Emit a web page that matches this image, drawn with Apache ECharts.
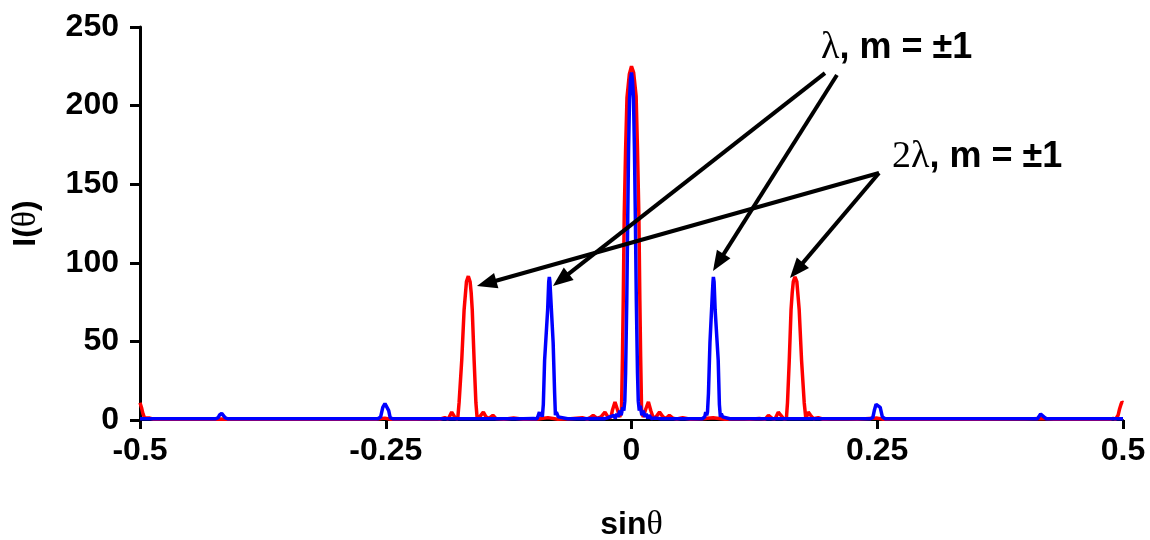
<!DOCTYPE html>
<html>
<head>
<meta charset="utf-8">
<script src="https://cdn.jsdelivr.net/npm/echarts@6/dist/echarts.min.js"></script>
<style>
  html, body { margin: 0; padding: 0; background: #fff; }
  #chart { width: 1150px; height: 540px; }
</style>
</head>
<body>
<div id="chart"></div>
<script>
// Axis ranges and ticks
const xRange = [-0.5, 0.5];
const xStep = 0.25;
const yRange = [0, 250];
const yStep = 50;

// Diffraction intensity I(theta) versus sin(theta), wavelength 2λ (red)
const redPts = [
  [-0.5, 11], [-0.4985, 8], [-0.497, 4], [-0.4955, 1.5], [-0.494, 0.5], [-0.49, 1.2], [-0.486, 0.5],
  [-0.45, 0.5], [-0.42, 0.6], [-0.40, 0.5], [-0.35, 0.5], [-0.30, 0.6], [-0.26, 0.5], [-0.251, 1.2],
  [-0.245, 0.5], [-0.22, 0.5], [-0.20, 0.8], [-0.195, 0.5], [-0.19, 1.5], [-0.1865, 0.5],
  [-0.1829, 5], [-0.181, 4], [-0.179, 1], [-0.1768, 0.6], [-0.1754, 11], [-0.1727, 38],
  [-0.1703, 70], [-0.1679, 88], [-0.166, 91.5], [-0.1642, 88], [-0.1631, 81], [-0.1620, 70],
  [-0.1601, 38], [-0.1583, 11], [-0.1570, 1], [-0.1545, 2], [-0.1507, 5], [-0.148, 2],
  [-0.145, 1], [-0.141, 3], [-0.138, 1], [-0.13, 0.5], [-0.12, 1.2], [-0.11, 0.5], [-0.095, 0.6],
  [-0.085, 1.5], [-0.075, 0.5], [-0.062, 0.8], [-0.05, 1.5], [-0.045, 0.6], [-0.042, 1.5],
  [-0.039, 3], [-0.035, 1], [-0.031, 2], [-0.027, 5], [-0.024, 2], [-0.021, 1.5],
  [-0.0195, 6], [-0.0168, 11.5], [-0.0145, 7], [-0.012, 2], [-0.0102, 5], [-0.0092, 40],
  [-0.0084, 76], [-0.0074, 130], [-0.0060, 172], [-0.0046, 205], [-0.0022, 220], [0, 225],
  [0.0022, 221], [0.0047, 206], [0.0061, 172], [0.0075, 130], [0.0085, 76], [0.0093, 40],
  [0.0103, 5], [0.012, 2], [0.0145, 7], [0.0172, 11.5], [0.0196, 6], [0.022, 1.5],
  [0.025, 2], [0.0285, 5], [0.032, 2], [0.035, 1], [0.0385, 3], [0.042, 1.2], [0.046, 0.6],
  [0.052, 1.4], [0.06, 0.5], [0.072, 0.8], [0.083, 1.5], [0.095, 0.5], [0.11, 0.8], [0.12, 0.5],
  [0.13, 1], [0.136, 0.5], [0.1393, 3], [0.143, 1], [0.146, 0.6], [0.1493, 5], [0.152, 3],
  [0.155, 0.6], [0.1576, 1], [0.1587, 11], [0.1605, 38], [0.1623, 70], [0.1635, 81],
  [0.1646, 88], [0.1663, 91], [0.1682, 88], [0.1706, 70], [0.1730, 38], [0.1757, 11],
  [0.1774, 0.6], [0.1798, 5], [0.1822, 3], [0.185, 0.8], [0.19, 1.5], [0.195, 0.5],
  [0.21, 0.8], [0.23, 0.5], [0.25, 1.2], [0.256, 0.5], [0.30, 0.6], [0.35, 0.5], [0.40, 0.6],
  [0.417, 1], [0.43, 0.5], [0.46, 0.5], [0.487, 0.5], [0.49, 1], [0.4925, 0.5], [0.495, 3],
  [0.4965, 7], [0.498, 10], [0.499, 11.5], [0.4995, 12], [0.5, 11]
];

// Wavelength λ (blue)
const bluePts = [
  [-0.5, 0.8], [-0.46, 0.8], [-0.423, 0.8], [-0.4205, 1.5], [-0.419, 3.2], [-0.4169, 4.2],
  [-0.415, 3.2], [-0.4135, 1.5], [-0.411, 0.8], [-0.35, 0.8], [-0.30, 0.8], [-0.258, 0.8],
  [-0.2552, 2], [-0.253, 8], [-0.2508, 10.5], [-0.2488, 9.5], [-0.247, 6], [-0.2455, 1.5],
  [-0.243, 0.8], [-0.20, 0.8], [-0.15, 0.8], [-0.11, 0.8], [-0.10, 1], [-0.096, 0.8],
  [-0.0937, 5], [-0.0925, 2.5], [-0.0915, 4], [-0.0907, 2], [-0.0897, 10], [-0.0884, 38],
  [-0.0853, 70], [-0.0842, 88], [-0.0836, 91], [-0.0830, 88], [-0.0824, 81], [-0.0797, 49],
  [-0.0782, 17], [-0.0774, 3], [-0.0764, 5], [-0.0755, 4.5], [-0.0745, 2], [-0.073, 1],
  [-0.065, 0.8], [-0.05, 0.8], [-0.035, 1], [-0.028, 0.8], [-0.025, 1.2], [-0.022, 2],
  [-0.020, 1], [-0.018, 3], [-0.0165, 1], [-0.015, 4], [-0.0135, 2], [-0.012, 6],
  [-0.0105, 3], [-0.009, 8], [-0.0078, 6], [-0.0068, 12], [-0.006, 30], [-0.0048, 76],
  [-0.0038, 130], [-0.003, 172], [-0.002, 204], [-0.001, 217], [0, 221], [0.001, 216],
  [0.002, 205], [0.003, 172], [0.0039, 130], [0.0049, 76], [0.0061, 30], [0.0069, 12],
  [0.0079, 6], [0.009, 9], [0.0105, 3], [0.012, 6], [0.0135, 2], [0.015, 4], [0.0165, 1],
  [0.018, 3], [0.020, 1], [0.022, 2], [0.025, 1.2], [0.03, 0.8], [0.045, 0.8], [0.06, 0.8],
  [0.072, 0.8], [0.0745, 2], [0.0755, 5], [0.0765, 3], [0.0773, 5], [0.0783, 17],
  [0.0798, 49], [0.0823, 81], [0.0829, 88], [0.0833, 91], [0.0840, 88], [0.0851, 70],
  [0.0882, 38], [0.0894, 10], [0.0904, 2], [0.0914, 4], [0.0927, 2], [0.094, 1], [0.10, 0.8],
  [0.15, 0.8], [0.20, 0.8], [0.243, 0.8], [0.2455, 1.5], [0.247, 6], [0.2488, 10],
  [0.2508, 10.5], [0.253, 8], [0.2552, 2], [0.258, 0.8], [0.30, 0.8], [0.35, 0.8], [0.40, 0.8],
  [0.413, 0.8], [0.4145, 1.5], [0.4162, 3.8], [0.4178, 4], [0.4195, 2], [0.422, 0.8],
  [0.46, 0.8], [0.5, 0.8]
];

const SANS = '"Liberation Sans", Arial, sans-serif';
const SERIF = '"Liberation Serif", "Times New Roman", serif';
const FS = 32;
const FN = 36;

const richAxis = {
  a: { fontFamily: SANS, fontWeight: 'bold', fontSize: FS, color: '#000' },
  g: { fontFamily: SERIF, fontWeight: 'normal', fontSize: FS + 2, color: '#000' }
};
const richNote = {
  a: { fontFamily: SANS, fontWeight: 'bold', fontSize: FN, color: '#000' },
  g: { fontFamily: SERIF, fontWeight: 'normal', fontSize: FN + 2, color: '#000' }
};

const chart = echarts.init(document.getElementById('chart'), null, { renderer: 'canvas' });

chart.setOption({
  animation: false,
  backgroundColor: '#fff',
  grid: { left: 140, right: 27, top: 27, bottom: 120, containLabel: false, outerBoundsMode: 'none' },
  xAxis: {
    type: 'value',
    min: xRange[0], max: xRange[1], interval: xStep,
    name: '{a|sin}{g|θ}',
    nameLocation: 'middle',
    nameGap: 88,
    nameTextStyle: { rich: richAxis },
    axisLine: { onZero: false, lineStyle: { color: '#000', width: 2 } },
    axisTick: { show: true, length: 9, lineStyle: { color: '#000', width: 3 } },
    axisLabel: {
      margin: 15, color: '#000', fontFamily: SANS, fontWeight: 'bold', fontSize: FS,
      formatter: v => String(Math.round(v * 100) / 100)
    },
    splitLine: { show: false }
  },
  yAxis: {
    type: 'value',
    min: yRange[0], max: yRange[1], interval: yStep,
    name: '{a|I(}{g|θ}{a|)}',
    nameLocation: 'middle',
    nameRotate: 90,
    nameGap: 97,
    nameTextStyle: { rich: richAxis },
    axisLine: { show: true, onZero: false, lineStyle: { color: '#000', width: 3 } },
    axisTick: { show: true, length: 10, lineStyle: { color: '#000', width: 3 } },
    axisLabel: { margin: 21, color: '#000', fontFamily: SANS, fontWeight: 'bold', fontSize: FS },
    splitLine: { show: false }
  },
  series: [
    {
      name: '2λ', type: 'line', data: redPts, showSymbol: false, symbol: 'none',
      lineStyle: { color: '#ff0000', width: 3.5 }, z: 2
    },
    {
      name: 'λ', type: 'line', data: bluePts, showSymbol: false, symbol: 'none',
      lineStyle: { color: '#0000ff', width: 3.5 }, z: 3
    }
  ]
});

// Annotation arrows, anchored in data space (sinθ, I)
const arrows = [
  { from: [0.1968, 220.7], to: [-0.0799, 85.2] },
  { from: [0.2090, 219.5], to: [0.0829, 94.8] },
  { from: [0.2518, 157.1], to: [-0.1572, 85.2] },
  { from: [0.2518, 157.1], to: [0.1612, 90.3] }
];

function drawNotes() {
  const els = [];
  arrows.forEach(a => {
    const p0 = chart.convertToPixel({ gridIndex: 0 }, a.from);
    const p1 = chart.convertToPixel({ gridIndex: 0 }, a.to);
    const dx = p1[0] - p0[0], dy = p1[1] - p0[1];
    const len = Math.hypot(dx, dy);
    const ux = dx / len, uy = dy / len;
    const L = 20, W = 8;
    const bx = p1[0] - ux * L, by = p1[1] - uy * L;
    els.push({
      type: 'line', z: 10,
      shape: { x1: p0[0], y1: p0[1], x2: bx + ux * 3, y2: by + uy * 3 },
      style: { stroke: '#000', lineWidth: 4 }
    });
    els.push({
      type: 'polygon', z: 10,
      shape: { points: [p1, [bx - uy * W, by + ux * W], [bx + uy * W, by - ux * W]] },
      style: { fill: '#000' }
    });
  });
  els.push({
    type: 'text', left: 821, top: 29, z: 11,
    style: { text: '{g|λ}{a|, m = ±1}', rich: richNote }
  });
  els.push({
    type: 'text', left: 892, top: 138, z: 11,
    style: { text: '{g|2λ}{a|, m = ±1}', rich: richNote }
  });
  chart.setOption({ graphic: els });
}
drawNotes();
</script>
</body>
</html>
